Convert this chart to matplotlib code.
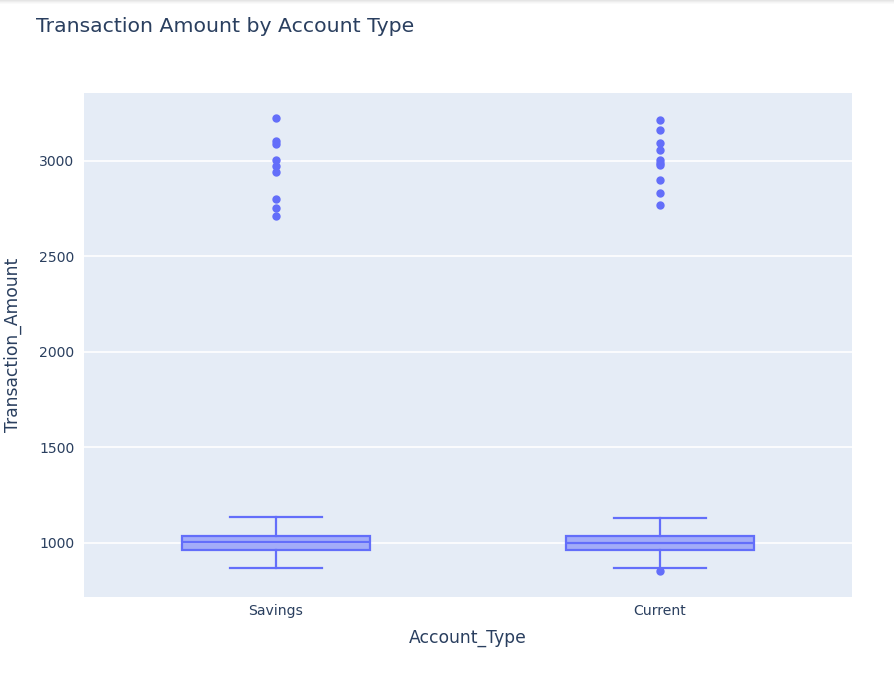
import matplotlib
matplotlib.use("Agg")
import matplotlib.pyplot as plt
from matplotlib.patches import Rectangle

categories = ["Savings", "Current"]
q1 = [962, 963]
median = [1005, 1002]
q3 = [1038, 1038]
whislo = [869, 869]
whishi = [1136, 1131]
fliers = [
    [3225, 3106, 3090, 3007, 2972, 2942, 2801, 2752, 2712],
    [3216, 3164, 3093, 3056, 3005, 2991, 2977, 2902, 2832, 2768, 852],
]
yticks = [1000, 1500, 2000, 2500, 3000]

plt.rcParams['font.family'] = ['DejaVu Sans']
W, H = 895, 678
fig = plt.figure(figsize=(W / 100, H / 100), dpi=100)

# faint top shadow band
for k, a in enumerate([0.10, 0.07, 0.04, 0.02]):
    fig.patches.append(Rectangle((0, 1 - (k + 1) / H), 1, 1 / H, transform=fig.transFigure,
                                 facecolor=(0, 0, 0, a), edgecolor='none'))

ax = fig.add_axes([84 / W, (H - 597) / H, 768 / W, 504 / H])
ax.set_facecolor("#e5ecf6")
for s in ax.spines.values():
    s.set_visible(False)

color = "#636efa"
stats = []
for i, c in enumerate(categories):
    stats.append(dict(label=c, q1=q1[i], med=median[i], q3=q3[i],
                      whislo=whislo[i], whishi=whishi[i], fliers=fliers[i]))

lw = 1.6
ax.bxp(stats, positions=list(range(len(categories))), widths=0.49,
       patch_artist=True, showfliers=True,
       boxprops=dict(facecolor=(99/255, 110/255, 250/255, 0.5), edgecolor=color, linewidth=lw),
       medianprops=dict(color=color, linewidth=lw),
       whiskerprops=dict(color=color, linewidth=lw),
       capprops=dict(color=color, linewidth=lw),
       capwidths=0.24,
       flierprops=dict(marker='o', markerfacecolor=color, markeredgecolor=color,
                       markersize=5, linestyle='none'),
       zorder=3)

ax.set_xlim(-0.5, 1.5)
ax.set_ylim(717, 3356)
ax.set_yticks(yticks)
ax.set_yticklabels([str(v) for v in yticks])
ax.set_xticks(range(len(categories)))
ax.set_xticklabels(categories)
ax.grid(axis='y', color='white', linewidth=1.2, zorder=0)
ax.set_axisbelow(True)
ax.tick_params(axis='both', length=0, labelsize=10.1, labelcolor="#2a3f5f")
ax.tick_params(axis='y', pad=7)
ax.tick_params(axis='x', pad=5)

ax.set_xlabel("Account_Type", fontsize=12.3, color="#2a3f5f", labelpad=8)
ax.set_ylabel("Transaction_Amount", fontsize=12.3, color="#2a3f5f", labelpad=12)

fig.text(36 / W, 1 - 26 / H, "Transaction Amount by Account Type", fontsize=14.7,
         color="#2a3f5f", va='center', ha='left')

fig.savefig("out.png", dpi=100)
